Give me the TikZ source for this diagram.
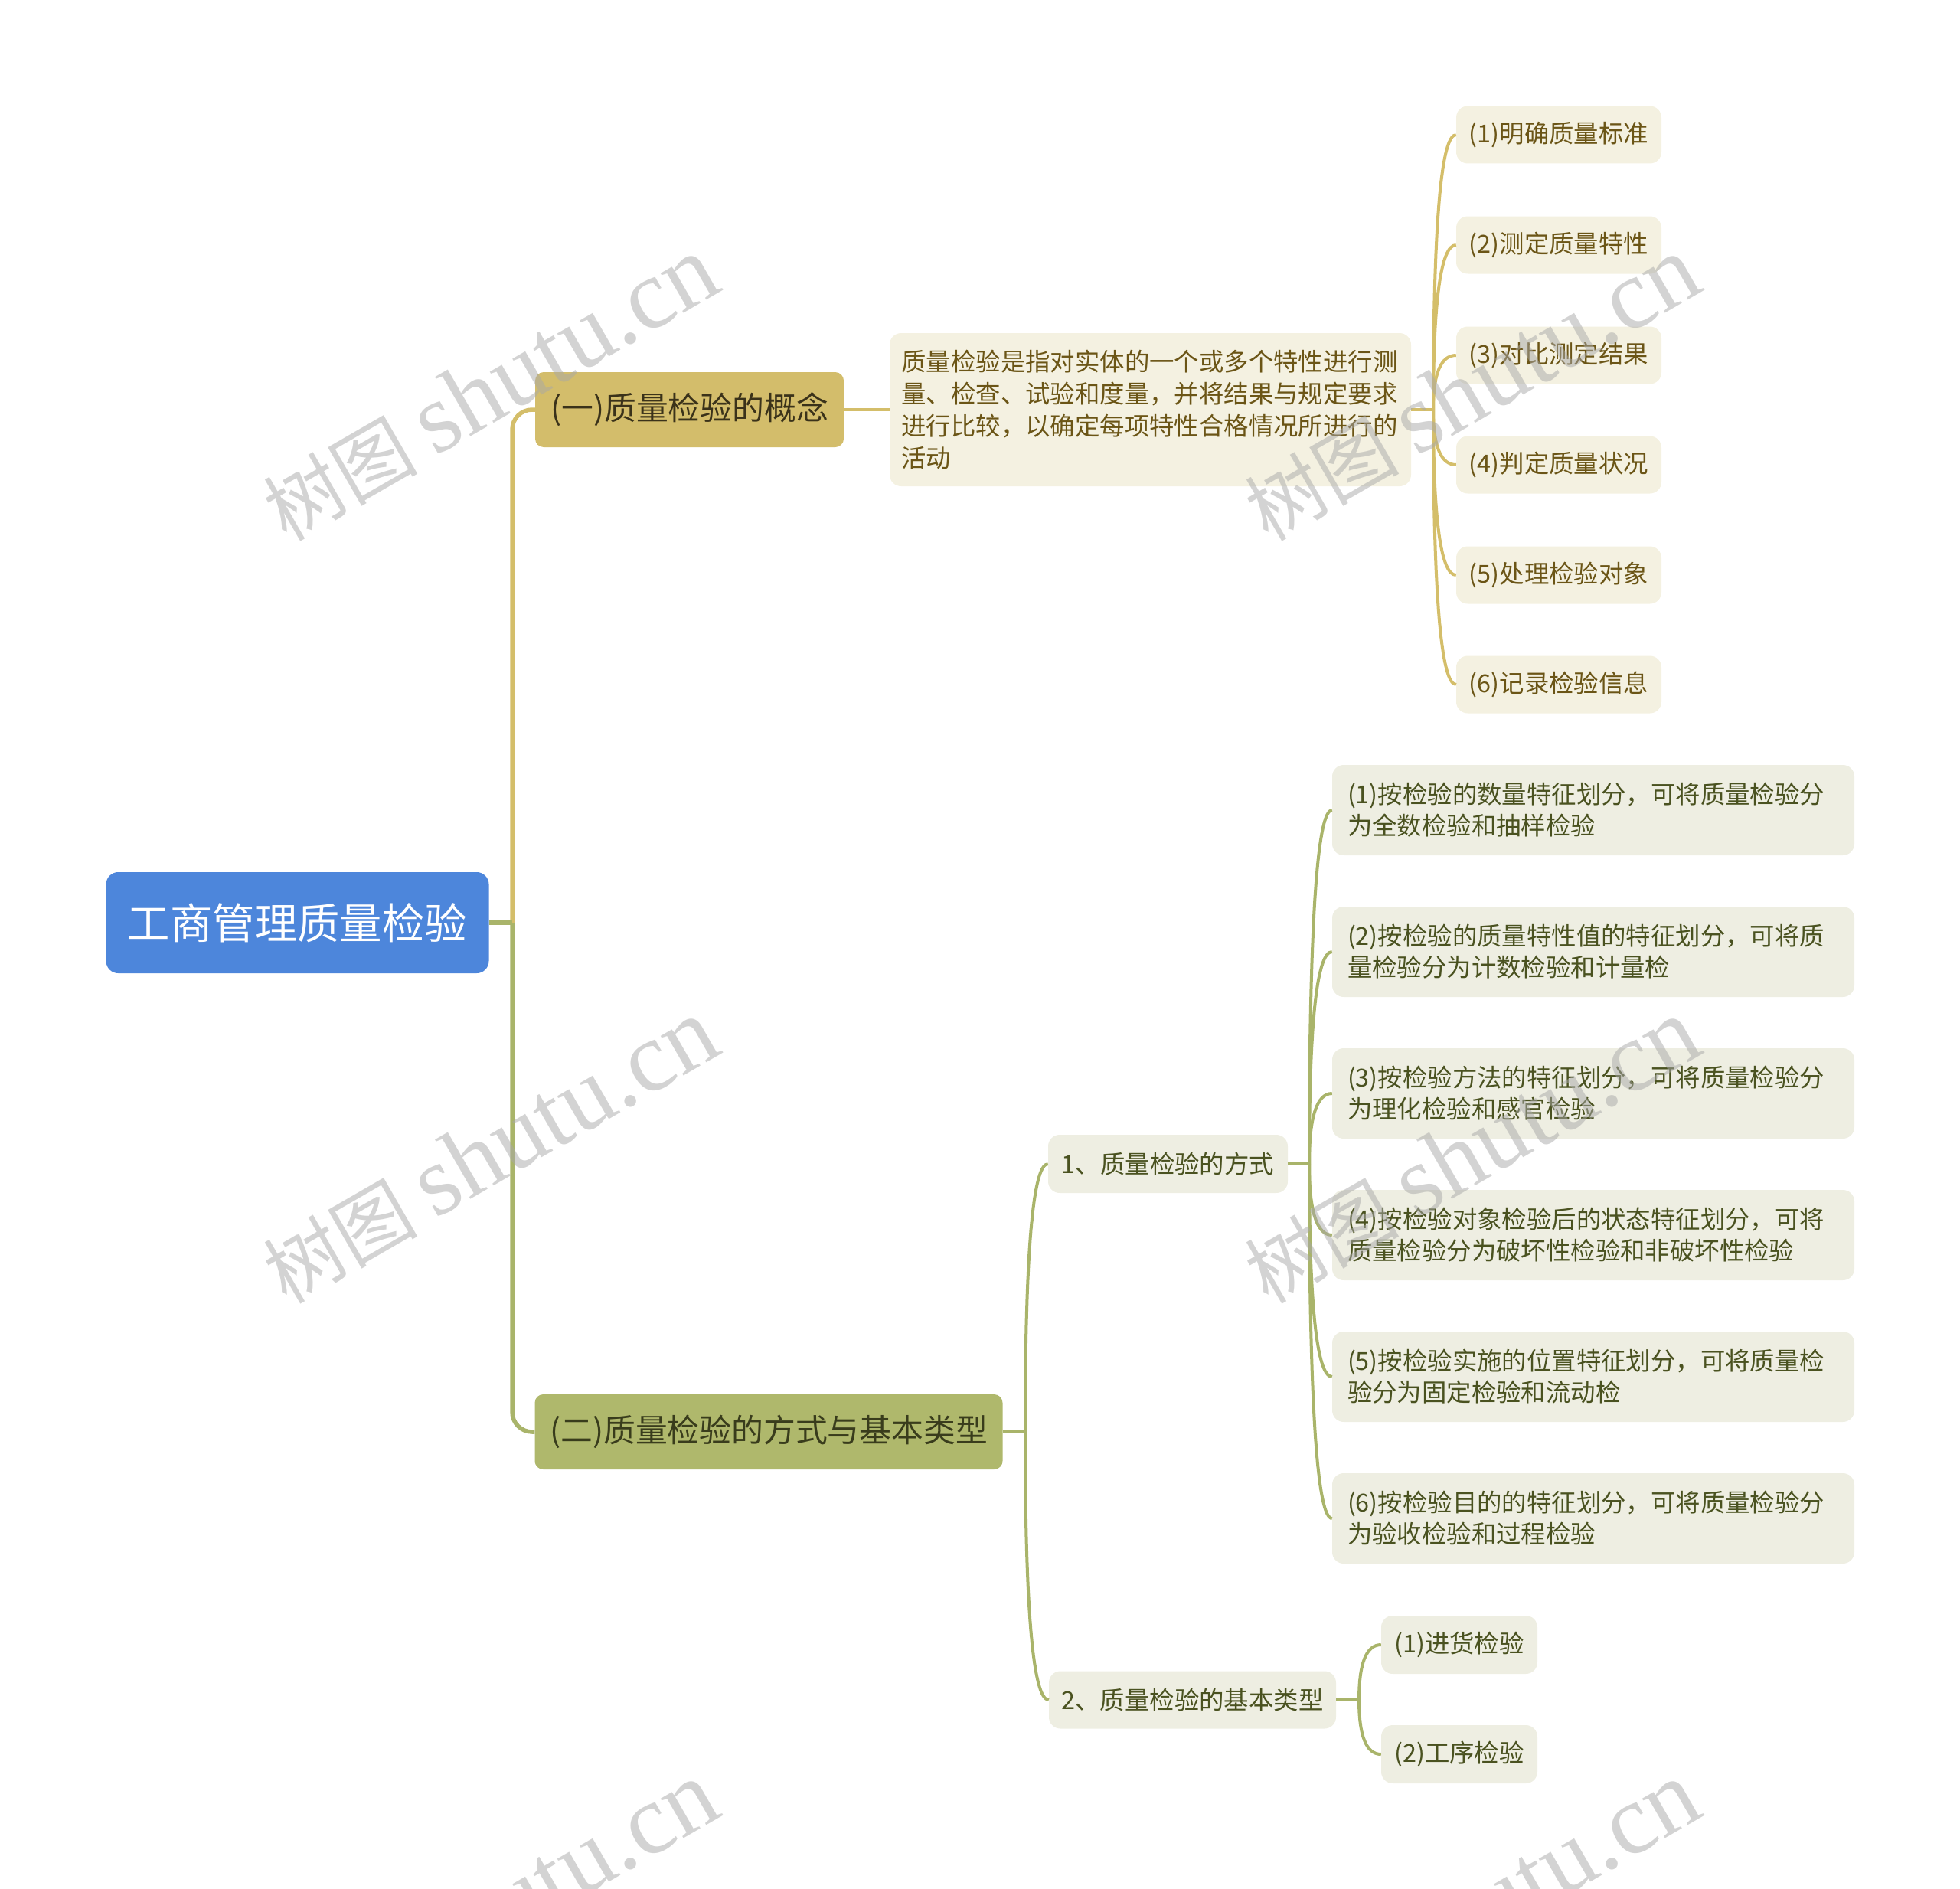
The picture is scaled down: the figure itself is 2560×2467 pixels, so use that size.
\documentclass[tikz,border=0pt]{standalone}
\usepackage{fontspec}
\setmainfont{Noto Sans CJK SC}
\newfontfamily\wmlatin{Liberation Serif}
\usetikzlibrary{calc}
\definecolor{rootblue}{HTML}{4D86DB}
\definecolor{tanfill}{HTML}{D3BD6B}
\definecolor{tanline}{HTML}{D4BE6A}
\definecolor{tantext}{HTML}{3A321A}
\definecolor{creamfill}{HTML}{F4F1E1}
\definecolor{creamtext}{HTML}{6B5516}
\definecolor{olivefill}{HTML}{AFB86C}
\definecolor{oliveline}{HTML}{A9B46A}
\definecolor{olivetext}{HTML}{393C1C}
\definecolor{sagefill}{HTML}{EEEEE2}
\definecolor{sagetext}{HTML}{4A5220}
\definecolor{wmgray}{HTML}{A8A8A8}
\newcommand\qlink[3][]{\draw[#1] (#2) .. controls ($(#2)!0.6667!(#2 |- #3.west)$) and ($(#3.west)!0.6667!(#2 |- #3.west)$) .. (#3.west);}
\begin{document}
\begin{tikzpicture}[x=1pt,y=-1pt,
  rootbox/.style={fill=rootblue, rounded corners=16pt, inner sep=0pt, text=white,
    font=\fontsize{55.4}{66}\selectfont, minimum width=500pt, minimum height=132pt},
  bigbox/.style={rounded corners=11pt, inner sep=0pt, font=\fontsize{41.8}{50}\selectfont, minimum height=98pt},
  tanbox/.style={bigbox, fill=tanfill, text=tantext},
  olivebox/.style={bigbox, fill=olivefill, text=olivetext},
  creambox/.style={fill=creamfill, text=creamtext, rounded corners=15pt, inner sep=0pt,
    font=\fontsize{32.4}{42}\selectfont},
  sagebox/.style={fill=sagefill, text=sagetext, rounded corners=15pt, inner sep=0pt,
    font=\fontsize{32.4}{41}\selectfont},
  itembox/.style={sagebox, align=left, text width=642pt, inner xsep=20pt, minimum height=118pt},
  mainline/.style={line width=5.5pt, rounded corners=26pt},
  subline/.style={line width=4pt},
  wm/.style={text=wmgray, text opacity=0.5, rotate=30, inner sep=0pt,
    font=\fontsize{101}{110}\selectfont}
]
\useasboundingbox (0,0) rectangle (2560,2467);

% nodes
\node[rootbox] (root) at (388.5,1205) {工商管理质量检验};

\node[tanbox, minimum width=403pt] (b1) at (900.5,535) {(一)质量检验的概念};
\node[olivebox, minimum width=611pt] (b2) at (1004,1870) {(二)质量检验的方式与基本类型};

\node[creambox, align=left, text width=650pt, inner xsep=15.5pt, minimum height=200pt] (desc) at (1502.5,535)
  {质量检验是指对实体的一个或多个特性进行测\\量、检查、试验和度量，并将结果与规定要求\\进行比较，以确定每项特性合格情况所进行的\\活动};

\node[creambox, minimum width=268pt, minimum height=75pt] (l1) at (2036,176) {(1)明确质量标准};
\node[creambox, minimum width=268pt, minimum height=75pt] (l2) at (2036,320) {(2)测定质量特性};
\node[creambox, minimum width=268pt, minimum height=75pt] (l3) at (2036,464) {(3)对比测定结果};
\node[creambox, minimum width=268pt, minimum height=75pt] (l4) at (2036,607) {(4)判定质量状况};
\node[creambox, minimum width=268pt, minimum height=75pt] (l5) at (2036,751) {(5)处理检验对象};
\node[creambox, minimum width=268pt, minimum height=75pt] (l6) at (2036,894) {(6)记录检验信息};

\node[sagebox, minimum width=313pt, minimum height=76pt] (s1) at (1525.5,1520) {1、质量检验的方式};
\node[sagebox, minimum width=375pt, minimum height=75pt] (s2) at (1557.5,2220) {2、质量检验的基本类型};

\node[itembox] (i1) at (2081,1058) {(1)按检验的数量特征划分，可将质量检验分\\为全数检验和抽样检验};
\node[itembox] (i2) at (2081,1243) {(2)按检验的质量特性值的特征划分，可将质\\量检验分为计数检验和计量检};
\node[itembox] (i3) at (2081,1428) {(3)按检验方法的特征划分，可将质量检验分\\为理化检验和感官检验};
\node[itembox] (i4) at (2081,1613) {(4)按检验对象检验后的状态特征划分，可将\\质量检验分为破坏性检验和非破坏性检验};
\node[itembox] (i5) at (2081,1798) {(5)按检验实施的位置特征划分，可将质量检\\验分为固定检验和流动检};
\node[itembox] (i6) at (2081,1983) {(6)按检验目的的特征划分，可将质量检验分\\为验收检验和过程检验};

\node[sagebox, minimum width=204pt, minimum height=76pt] (t1) at (1906,2148) {(1)进货检验};
\node[sagebox, minimum width=204pt, minimum height=76pt] (t2) at (1906,2291) {(2)工序检验};

% junctions
\coordinate (j0) at (669,1205);
\coordinate (j1) at (1872,535);
\coordinate (j2) at (1339,1870);
\coordinate (j3) at (1710,1520);
\coordinate (j4) at (1775,2220);

% connectors
\draw[mainline, tanline] (j0) |- (b1.west);
\draw[mainline, oliveline] (j0) |- (b2.west);
\draw[line width=5.5pt, oliveline] (root.east) -- (j0);

\draw[subline, tanline] (b1.east) -- (desc.west);
\draw[subline, tanline] (desc.east) -- (j1);
\foreach \n in {l1,l2,l3,l4,l5,l6} {\qlink[subline, tanline]{j1}{\n}}

\draw[subline, oliveline] (b2.east) -- (j2);
\qlink[subline, oliveline]{j2}{s1}
\qlink[subline, oliveline]{j2}{s2}

\draw[subline, oliveline] (s1.east) -- (j3);
\foreach \n in {i1,i2,i3,i4,i5,i6} {\qlink[subline, oliveline]{j3}{\n}}

\draw[subline, oliveline] (s2.east) -- (j4);
\qlink[subline, oliveline]{j4}{t1}
\qlink[subline, oliveline]{j4}{t2}

% watermarks
\begin{scope}
\clip (0,0) rectangle (2560,2467);
\foreach \wx in {640,1922} {
  \foreach \wy in {508,1504,2500} {
    \node[wm] at (\wx,\wy) {树图 {\wmlatin\fontsize{130}{135}\selectfont shutu.cn}};
  }
}
\end{scope}
\end{tikzpicture}
\end{document}
